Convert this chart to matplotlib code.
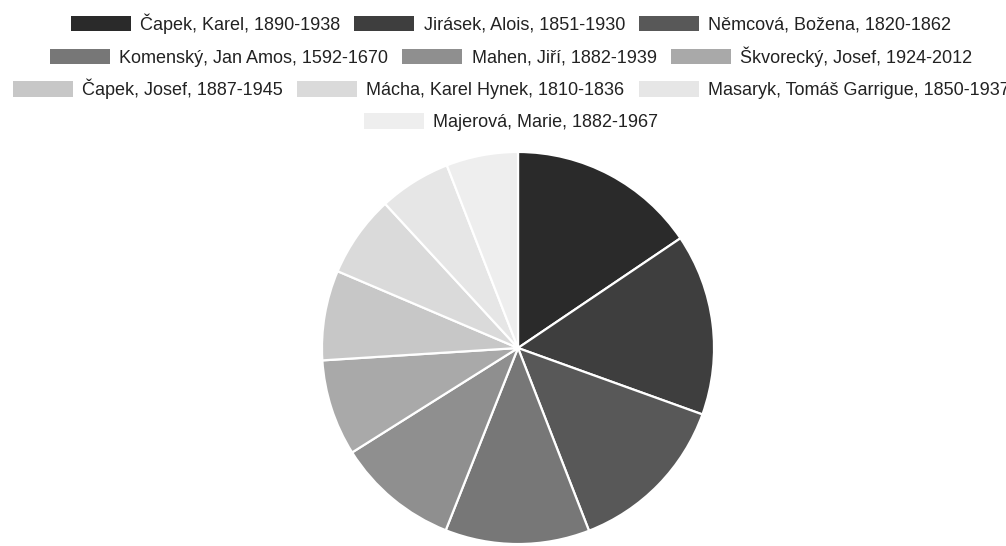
import matplotlib
matplotlib.use("Agg")
import matplotlib.pyplot as plt
from matplotlib.patches import Patch

# data (slice sizes in degrees)
authors = [
    "Čapek, Karel, 1890-1938",
    "Jirásek, Alois, 1851-1930",
    "Němcová, Božena, 1820-1862",
    "Komenský, Jan Amos, 1592-1670",
    "Mahen, Jiří, 1882-1939",
    "Škvorecký, Josef, 1924-2012",
    "Čapek, Josef, 1887-1945",
    "Mácha, Karel Hynek, 1810-1836",
    "Masaryk, Tomáš Garrigue, 1850-1937",
    "Majerová, Marie, 1882-1967",
]
values = [56.0, 53.9, 49.0, 42.9, 36.2, 28.6, 26.7, 24.3, 21.4, 21.3]
colors = ["#2a2a2a", "#3e3e3e", "#585858", "#777777", "#8f8f8f",
          "#a9a9a9", "#c7c7c7", "#dadada", "#e6e6e6", "#eeeeee"]
legend_rows = [3, 3, 3, 1]

plt.rcParams['font.family'] = ['Liberation Sans', 'DejaVu Sans']

W, H = 1006, 546
fig = plt.figure(figsize=(W / 100, H / 100), dpi=100)

# pie: centre (518, 348) px, radius 198 px
r = 198
ax = fig.add_axes([(518 - r) / W, (H - 348 - r) / H, 2 * r / W, 2 * r / H])
ax.pie(values, colors=colors, startangle=90, counterclock=False, radius=1,
       wedgeprops=dict(edgecolor="white", linewidth=1.6))
ax.set_xlim(-1.01, 1.01)
ax.set_ylim(-1.01, 1.01)
ax.set_aspect("equal")
ax.axis("off")

# legend, one centred row at a time
row_y = [23.5, 56.5, 89, 122]
handles = [Patch(facecolor=c, edgecolor="none") for c in colors]
start = 0
for n, y in zip(legend_rows, row_y):
    fig.legend(handles[start:start + n], authors[start:start + n],
               loc="center", bbox_to_anchor=(511 / W, 1 - y / H),
               ncol=n, frameon=False, fontsize=13, labelcolor="#222222",
               handlelength=3.33, handleheight=0.95, handletextpad=0.5,
               columnspacing=0.8, borderpad=0, borderaxespad=0)
    start += n

fig.savefig("out.png", dpi=100, facecolor="white")
